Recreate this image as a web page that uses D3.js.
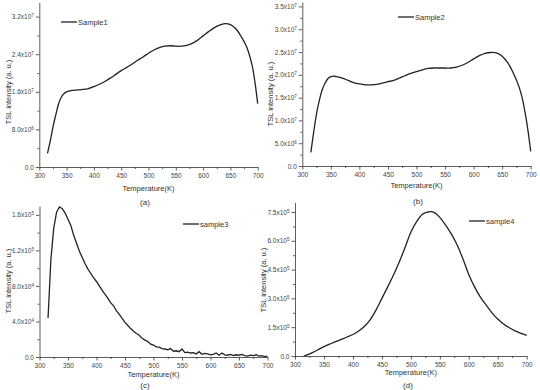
<!DOCTYPE html>
<html>
<head>
<meta charset="utf-8">
<script src="https://cdn.jsdelivr.net/npm/d3@7"></script>
<style>
  body { margin: 0; background: #fff; }
  svg { display: block; font-family: "Liberation Sans", Arial, sans-serif; }
  .axis text { fill: #444; font-size: 6.5px; }
  .axis path, .axis line { stroke: #333; stroke-width: 0.8; }
</style>
</head>
<body>
<div id="chart"></div>
<script>
// data
const tempTicks = [300, 350, 400, 450, 500, 550, 600, 650, 700];

const sample1T = [315, 320, 325, 330, 335, 340, 345, 350, 360, 370, 380, 390, 400, 410, 420, 430, 440, 450, 460, 470, 480, 490, 500, 510, 520, 530, 540, 550, 560, 570, 580, 590, 600, 610, 620, 630, 640, 650, 660, 670, 680, 690, 695, 700];
const sample1Y = [2.9e6, 5.5e6, 8.5e6, 1.10e7, 1.33e7, 1.48e7, 1.56e7, 1.60e7, 1.63e7, 1.64e7, 1.65e7, 1.67e7, 1.71e7, 1.76e7, 1.82e7, 1.89e7, 1.97e7, 2.05e7, 2.12e7, 2.19e7, 2.27e7, 2.34e7, 2.42e7, 2.49e7, 2.54e7, 2.57e7, 2.58e7, 2.57e7, 2.57e7, 2.59e7, 2.63e7, 2.70e7, 2.79e7, 2.88e7, 2.96e7, 3.02e7, 3.05e7, 3.03e7, 2.94e7, 2.77e7, 2.55e7, 2.15e7, 1.80e7, 1.35e7];

const sample2T = [315, 320, 325, 330, 335, 340, 345, 350, 355, 360, 370, 380, 390, 400, 410, 420, 430, 440, 450, 460, 470, 480, 490, 500, 510, 520, 530, 540, 550, 560, 570, 580, 590, 600, 610, 620, 630, 640, 650, 660, 670, 680, 685, 690, 695, 700];
const sample2Y = [3.0e6, 7.5e6, 1.15e7, 1.45e7, 1.68e7, 1.82e7, 1.92e7, 1.96e7, 1.97e7, 1.96e7, 1.93e7, 1.88e7, 1.83e7, 1.80e7, 1.78e7, 1.78e7, 1.79e7, 1.82e7, 1.85e7, 1.88e7, 1.93e7, 1.98e7, 2.03e7, 2.07e7, 2.11e7, 2.14e7, 2.15e7, 2.15e7, 2.15e7, 2.15e7, 2.17e7, 2.21e7, 2.27e7, 2.35e7, 2.42e7, 2.47e7, 2.49e7, 2.48e7, 2.41e7, 2.26e7, 2.03e7, 1.72e7, 1.50e7, 1.18e7, 0.80e7, 0.32e7];

const sample3T = [315, 320, 325, 330, 335, 340, 345, 350, 355, 360, 365, 370, 375, 380, 385, 390, 395, 400, 405, 410, 415, 420, 425, 430, 435, 440, 445, 450, 455, 460, 465, 470, 475, 480, 485, 490, 495, 500, 505, 510, 515, 520, 525, 530, 535, 540, 545, 550, 555, 560, 565, 570, 575, 580, 585, 590, 595, 600, 605, 610, 615, 620, 625, 630, 635, 640, 645, 650, 655, 660, 665, 670, 675, 680, 685, 690, 695, 700];
const sample3Y = [44000, 110000, 145000, 163000, 169000, 167000, 162000, 155000, 148000, 137000, 128000, 119000, 112000, 105000, 99000, 94000, 89000, 85000, 80000, 75000, 70500, 66000, 61000, 57500, 52000, 48000, 43500, 39000, 35500, 32000, 29000, 26500, 24500, 21000, 19000, 17500, 14500, 13500, 11500, 11000, 9500, 9000, 8000, 9500, 6500, 7000, 6000, 9000, 5000, 5500, 4500, 5000, 3500, 6000, 3000, 4000, 3500, 2500, 3000, 4500, 2000, 4500, 2500, 2000, 3000, 1500, 2500, 2000, 3000, 1500, 1000, 2000, 1500, 2500, 1000, 1500, 500, 1000];

const sample4T = [315, 320, 330, 340, 350, 360, 370, 380, 390, 400, 410, 420, 430, 440, 450, 460, 470, 480, 490, 500, 510, 520, 525, 530, 535, 540, 545, 550, 560, 570, 580, 590, 600, 610, 620, 630, 640, 650, 660, 670, 680, 690, 700];
const sample4Y = [0, 5000, 18000, 33000, 49000, 62000, 75000, 87000, 99000, 112000, 130000, 155000, 190000, 240000, 300000, 360000, 422000, 490000, 565000, 645000, 700000, 738000, 746000, 750000, 752000, 748000, 737000, 722000, 682000, 635000, 578000, 505000, 425000, 360000, 307000, 265000, 225000, 193000, 167000, 147000, 131000, 118000, 108000];

const W = 540, H = 390;

const svg = d3.select('#chart').append('svg')
  .attr('width', W)
  .attr('height', H);

const panels = [
  { name: 'Sample1', tag: '(a)', T: sample1T, Y: sample1Y,
    x0: 39.3, x1: 257.7, y0: 167, y1: 2.5, ymax: 3.5e7, major: 8e6,
    titleY: 191, yTitleX: 8, yTitleY: 92, legX: 61, legY: 22, tagX: 145, tagY: 205 },
  { name: 'Sample2', tag: '(b)', T: sample2T, Y: sample2Y,
    x0: 302.3, x1: 530.7, y0: 166, y1: 1.9, ymax: 3.6e7, major: 5e6,
    titleY: 188, yTitleX: 270, yTitleY: 94, legX: 398, legY: 17, tagX: 418, tagY: 204 },
  { name: 'sample3', tag: '(c)', T: sample3T, Y: sample3Y,
    x0: 39.5, x1: 267.5, y0: 357, y1: 206, ymax: 1.7e5, major: 4e4,
    titleY: 376.5, yTitleX: 8, yTitleY: 281, legX: 183, legY: 224, tagX: 145, tagY: 388 },
  { name: 'sample4', tag: '(d)', T: sample4T, Y: sample4Y,
    x0: 295, x1: 526.7, y0: 356, y1: 202.4, ymax: 8e5, major: 1.5e5,
    titleY: 375, yTitleX: 263, yTitleY: 280, legX: 469, legY: 221, tagX: 408, tagY: 388 }
];

function sciLabel(sel) {
  sel.each(function(d) {
    const t = d3.select(this);
    t.text(null);
    if (d === 0) { t.text('0.0'); return; }
    const e = Math.floor(Math.log10(d) + 1e-9);
    const m = (d / Math.pow(10, e)).toFixed(1);
    t.append('tspan').text(m + 'x10');
    t.append('tspan').text(e).attr('dy', '-0.45em').style('font-size', '4.5px');
  });
}

panels.forEach(p => {
  const x = d3.scaleLinear().domain([300, 700]).range([p.x0, p.x1]);
  const y = d3.scaleLinear().domain([0, p.ymax]).range([p.y0, p.y1]);
  const g = svg.append('g');

  // minor ticks
  g.append('g').attr('class', 'axis')
    .attr('transform', `translate(0,${p.y0})`)
    .call(d3.axisBottom(x).tickValues(d3.range(325, 700, 50)).tickSize(2).tickFormat(''))
    .select('.domain').remove();
  g.append('g').attr('class', 'axis')
    .attr('transform', `translate(${p.x0},0)`)
    .call(d3.axisLeft(y).tickValues(d3.range(p.major / 2, p.ymax, p.major)).tickSize(2).tickFormat(''))
    .select('.domain').remove();

  // major ticks
  g.append('g').attr('class', 'axis')
    .attr('transform', `translate(0,${p.y0})`)
    .call(d3.axisBottom(x).tickValues(tempTicks).tickSize(3.5).tickSizeOuter(0).tickPadding(3));

  const yTicks = d3.range(0, p.ymax + 1, p.major);
  g.append('g').attr('class', 'axis')
    .attr('transform', `translate(${p.x0},0)`)
    .call(d3.axisLeft(y).tickValues(yTicks).tickSize(3.5).tickSizeOuter(0).tickPadding(2))
    .selectAll('.tick text').call(sciLabel);

  // axis titles
  g.append('text')
    .attr('x', (p.x0 + p.x1) / 2)
    .attr('y', p.titleY)
    .attr('text-anchor', 'middle')
    .style('font-size', '7.5px')
    .style('fill', '#333')
    .text('Temperature(K)');

  g.append('text')
    .attr('transform', `translate(${p.yTitleX},${p.yTitleY}) rotate(-90)`)
    .attr('text-anchor', 'middle')
    .attr('dy', '0.35em')
    .style('font-size', '7.5px')
    .style('fill', '#333')
    .text('TSL intensity (a. u.)');

  // curve
  const line = d3.line()
    .x((d, i) => x(p.T[i]))
    .y(d => y(d))
    .curve(p.name === 'sample3' ? d3.curveLinear : d3.curveCatmullRom);

  g.append('path')
    .datum(p.Y)
    .attr('d', line)
    .attr('fill', 'none')
    .attr('stroke', '#222')
    .attr('stroke-width', 1.3);

  // legend
  g.append('line')
    .attr('x1', p.legX).attr('x2', p.legX + 16)
    .attr('y1', p.legY).attr('y2', p.legY)
    .attr('stroke', '#222')
    .attr('stroke-width', 1.3);
  g.append('text')
    .attr('x', p.legX + 17)
    .attr('y', p.legY)
    .attr('dy', '0.35em')
    .style('font-size', '7.5px')
    .style('fill', '#333')
    .text(p.name);

  // panel tag
  g.append('text')
    .attr('x', p.tagX)
    .attr('y', p.tagY)
    .attr('text-anchor', 'middle')
    .style('font-size', '8px')
    .style('fill', '#333')
    .text(p.tag);
});
</script>
</body>
</html>
